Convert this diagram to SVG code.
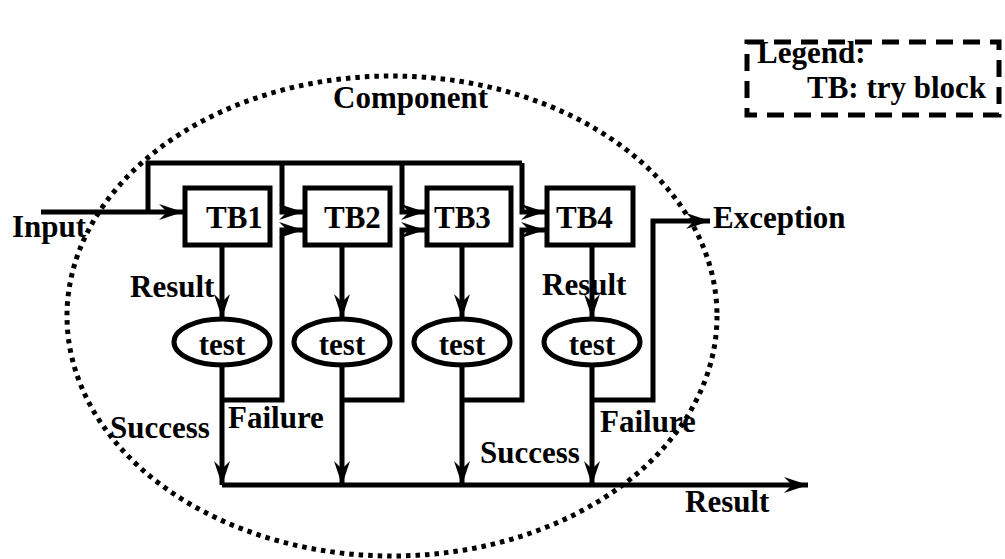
<svg xmlns="http://www.w3.org/2000/svg" width="1005" height="559" viewBox="0 0 1005 559">
<style>
text{font-family:"Liberation Serif","Times New Roman",serif;font-weight:bold;font-size:31px;fill:#000}
.box{fill:#fff;stroke:#000;stroke-width:5}
.ell{fill:#fff;stroke:#000;stroke-width:5}
.c{fill:none;stroke:#000;stroke-width:5}
</style>
<defs>
<marker id="ah" markerUnits="userSpaceOnUse" markerWidth="30" markerHeight="20" viewBox="-26 -10 30 20" refX="0" refY="0" orient="auto" overflow="visible">
<path d="M0,0 L-24,-8 L-16,0 L-24,8 Z" fill="#000"/>
</marker>
</defs>
<g id="component">
<ellipse cx="392" cy="316" rx="325" ry="240" fill="none" stroke="#000" stroke-width="5" stroke-dasharray="4.5 5"/>
<text x="333" y="108">Component</text>
</g>
<g id="legend">
<rect x="747" y="42" width="252" height="73" fill="none" stroke="#000" stroke-width="5" stroke-dasharray="17 10"/>
<text x="757" y="63">Legend:</text>
<text x="807" y="98">TB: try block</text>
</g>
<g id="connectors">
<path class="c" d="M41,212 H183" marker-end="url(#ah)"/>
<path class="c" d="M148,212 V163 H522"/>
<path class="c" d="M282,163 V212 H303" marker-end="url(#ah)"/>
<path class="c" d="M402,163 V212 H425" marker-end="url(#ah)"/>
<path class="c" d="M522,163 V212 H545" marker-end="url(#ah)"/>
<path class="c" d="M222,247 V318" marker-end="url(#ah)"/>
<path class="c" d="M342,247 V318" marker-end="url(#ah)"/>
<path class="c" d="M462,247 V318" marker-end="url(#ah)"/>
<path class="c" d="M592,247 V318" marker-end="url(#ah)"/>
<path class="c" d="M222,365 V485" marker-end="url(#ah)"/>
<path class="c" d="M342,365 V485" marker-end="url(#ah)"/>
<path class="c" d="M462,365 V485" marker-end="url(#ah)"/>
<path class="c" d="M592,365 V485" marker-end="url(#ah)"/>
<path class="c" d="M222,400 H282 V230 H303" marker-end="url(#ah)"/>
<path class="c" d="M342,400 H402 V230 H425" marker-end="url(#ah)"/>
<path class="c" d="M462,400 H522 V230 H545" marker-end="url(#ah)"/>
<path class="c" d="M592,400 H653 V221 H710" marker-end="url(#ah)"/>
<path class="c" d="M222,485 H808" marker-end="url(#ah)"/>
</g>
<g id="tb1"><rect class="box" x="185" y="188" width="85" height="57"/><text x="206" y="228">TB1</text></g>
<g id="tb2"><rect class="box" x="305" y="188" width="85" height="57"/><text x="324" y="228">TB2</text></g>
<g id="tb3"><rect class="box" x="427" y="188" width="84" height="57"/><text x="434" y="228">TB3</text></g>
<g id="tb4"><rect class="box" x="547" y="188" width="86" height="57"/><text x="556" y="228">TB4</text></g>
<g id="test1"><ellipse class="ell" cx="222" cy="342" rx="48" ry="23"/><text x="222" y="355" text-anchor="middle">test</text></g>
<g id="test2"><ellipse class="ell" cx="342" cy="342" rx="48" ry="23"/><text x="342" y="355" text-anchor="middle">test</text></g>
<g id="test3"><ellipse class="ell" cx="462" cy="342" rx="48" ry="23"/><text x="462" y="355" text-anchor="middle">test</text></g>
<g id="test4"><ellipse class="ell" cx="592" cy="342" rx="48" ry="23"/><text x="592" y="355" text-anchor="middle">test</text></g>
<g id="labels">
<text x="12" y="237">Input</text>
<text x="713" y="228">Exception</text>
<text x="130" y="297">Result</text>
<text x="542" y="295">Result</text>
<text x="110" y="438">Success</text>
<text x="228" y="428">Failure</text>
<text x="480" y="463">Success</text>
<text x="600" y="432">Failure</text>
<text x="685" y="512">Result</text>
</g>
</svg>
